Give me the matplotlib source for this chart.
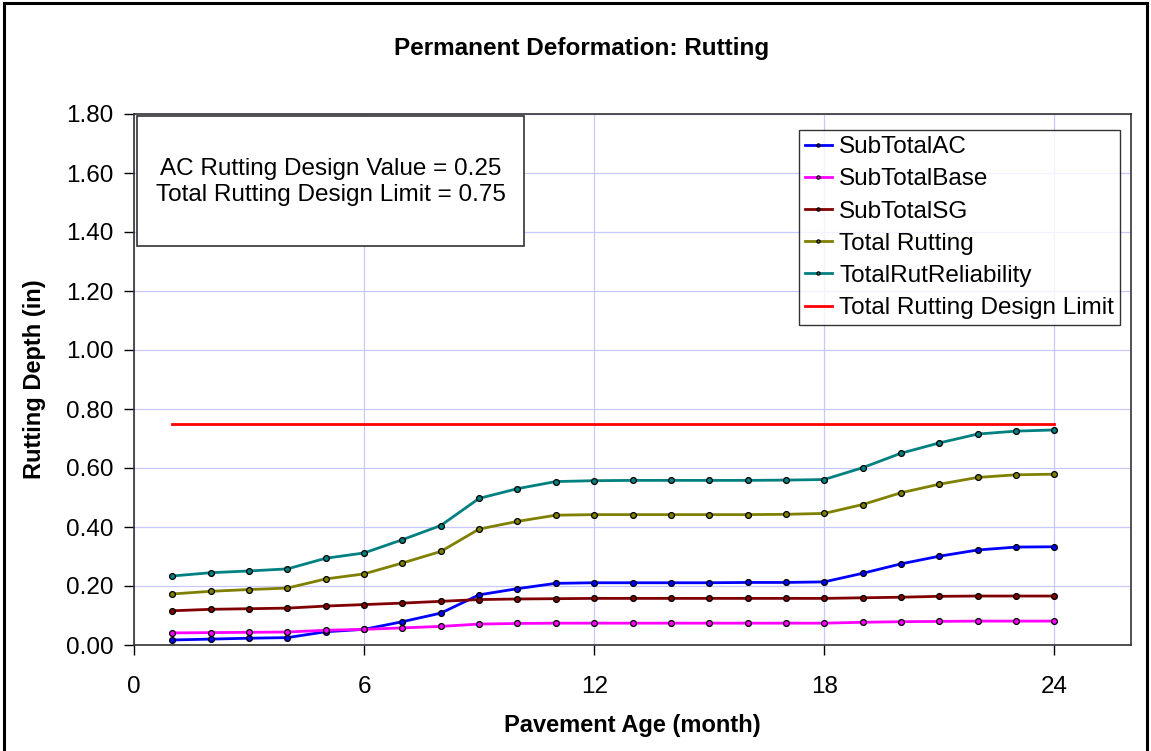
import matplotlib
matplotlib.use("Agg")
import matplotlib.pyplot as plt
from matplotlib.patches import Rectangle

plt.rcParams['font.family'] = ['Liberation Sans', 'DejaVu Sans']

# data
months = [1, 2, 3, 4, 5, 6, 7, 8, 9, 10, 11, 12,
          13, 14, 15, 16, 17, 18, 19, 20, 21, 22, 23, 24]
sub_ac = [0.017, 0.020, 0.023, 0.025, 0.045, 0.053, 0.079, 0.108, 0.170, 0.191, 0.209, 0.211,
          0.211, 0.211, 0.211, 0.212, 0.212, 0.214, 0.243, 0.275, 0.301, 0.322, 0.332, 0.333]
sub_base = [0.041, 0.042, 0.043, 0.044, 0.050, 0.053, 0.058, 0.063, 0.071, 0.073, 0.074, 0.074,
            0.074, 0.074, 0.074, 0.074, 0.074, 0.074, 0.077, 0.079, 0.080, 0.081, 0.081, 0.081]
sub_sg = [0.116, 0.121, 0.123, 0.125, 0.132, 0.137, 0.142, 0.148, 0.154, 0.156, 0.157, 0.158,
          0.158, 0.158, 0.158, 0.158, 0.158, 0.158, 0.160, 0.162, 0.165, 0.166, 0.166, 0.166]
total_rut = [0.173, 0.182, 0.188, 0.193, 0.224, 0.241, 0.278, 0.317, 0.393, 0.419, 0.440, 0.442,
             0.442, 0.442, 0.442, 0.442, 0.443, 0.446, 0.476, 0.516, 0.545, 0.568, 0.577, 0.579]
rut_reliab = [0.234, 0.245, 0.251, 0.258, 0.294, 0.312, 0.357, 0.405, 0.497, 0.530, 0.554, 0.557,
              0.558, 0.558, 0.558, 0.558, 0.559, 0.561, 0.601, 0.650, 0.685, 0.715, 0.725, 0.729]
design_limit = 0.75
ac_design = 0.25

series = [
    ("SubTotalAC", sub_ac, "#0000FF"),
    ("SubTotalBase", sub_base, "#FF00FF"),
    ("SubTotalSG", sub_sg, "#800000"),
    ("Total Rutting", total_rut, "#808000"),
    ("TotalRutReliability", rut_reliab, "#008080"),
]

W, H = 1151, 751
fig = plt.figure(figsize=(W / 100, H / 100), dpi=100)

def px(x0, y0, x1, y1):
    # pixel box (top-left origin) -> figure fraction [l, b, w, h]
    return [x0 / W, 1 - y1 / H, (x1 - x0) / W, (y1 - y0) / H]

ax = fig.add_axes(px(134, 114, 1131, 645))

for name, vals, col in series:
    ax.plot(months, vals, color=col, lw=2.0, marker='o', ms=4.2,
            mfc=col, mec='black', mew=0.9, label=name)
ax.plot(months, [design_limit] * len(months), color='#FF0000', lw=2.0,
        label="Total Rutting Design Limit")

ax.set_xlim(0, 26)
ax.set_ylim(0, 1.8)
ax.set_xticks([0, 6, 12, 18, 24])
ax.set_yticks([0, 0.2, 0.4, 0.6, 0.8, 1.0, 1.2, 1.4, 1.6, 1.8])
ax.set_yticklabels([f"{v:.2f}" for v in ax.get_yticks()])
ax.grid(True, color='#C8C8FF', lw=0.9)
ax.set_axisbelow(True)
for s in ax.spines.values():
    s.set_color('#333333')
    s.set_linewidth(1.2)
ax.tick_params(direction='out', length=7, width=1, labelsize=17.5, pad=8, colors='black')
ax.tick_params(axis='x', pad=15)

ax.set_xlabel("Pavement Age (month)", fontsize=17, fontweight='bold', labelpad=12)
ax.set_ylabel("Rutting Depth (in)", fontsize=17, fontweight='bold', labelpad=14)
fig.text(582 / W, 1 - 48 / H, "Permanent Deformation: Rutting", fontsize=17.5,
         fontweight='bold', ha='center', va='center')

leg = ax.legend(loc='upper right', bbox_to_anchor=((1120 - 134) / 997, (645 - 130) / 531),
                fontsize=17.5, frameon=True, fancybox=False, numpoints=1, markerscale=0.55,
                handlelength=1.1, handletextpad=0.3, labelspacing=0.42,
                borderpad=0.25, borderaxespad=0)
leg.get_frame().set_edgecolor('black')
leg.get_frame().set_linewidth(1.0)

# note box
b = px(137, 116, 524, 246)
fig.patches.append(Rectangle((b[0], b[1]), b[2], b[3], transform=fig.transFigure,
                             facecolor='white', edgecolor='#333333', lw=1.2, zorder=5))
fig.text(331 / W, 1 - 182 / H,
         f"AC Rutting Design Value = {ac_design:.2f}\nTotal Rutting Design Limit = {design_limit:.2f}",
         fontsize=17.5, ha='center', va='center', linespacing=1.2, zorder=6)

# chart border
fig.patches.append(Rectangle((4 / W, -0.01), 1143 / W, 1 - 3 / H + 0.01,
                             transform=fig.transFigure, fill=False,
                             edgecolor='black', lw=2.2))

fig.savefig("out.png", dpi=100)
